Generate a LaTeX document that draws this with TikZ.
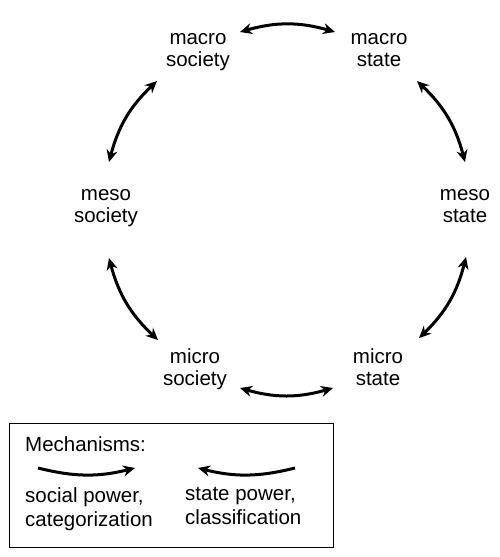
\documentclass[tikz,border=0pt]{standalone}
\usepackage{fontspec}
\setmainfont{Liberation Sans}
\usetikzlibrary{arrows.meta}
\tikzstyle{level}=[align=center,anchor=north,inner sep=0pt,font=\fontsize{20.5}{22}\selectfont]
\tikzstyle{legtext}=[align=left,inner sep=0pt,font=\fontsize{20.5}{24}\selectfont]
\tikzstyle{link}=[line width=3pt,{Stealth[length=12pt,width=11pt]}-{Stealth[length=12pt,width=11pt]},bend left=16]
\tikzstyle{mech}=[line width=3pt,-{Stealth[length=12pt,width=11pt]}]

\begin{document}
\begin{tikzpicture}[x=1pt,y=-1pt]
    \useasboundingbox (0,0) rectangle (500,557);
    \node[level] (macsoc) at (198,33)  {macro\\society};
    \node[level] (macsta) at (379,33)  {macro\\state};
    \node[level] (messoc) at (106,189) {meso\\society};
    \node[level] (messta) at (465,189) {meso\\state};
    \node[level] (micsoc) at (195,348) {micro\\society};
    \node[level] (micsta) at (378,348) {micro\\state};

    % mutual relations, clockwise
    \foreach \a/\sa/\b/\sb in {macsoc/{42,-1}/macsta/{-44,-1},
                               macsta/{38,48}/messta/{0,-27},
                               messta/{1,68}/micsta/{41,-10},
                               micsta/{-45,40}/micsoc/{45,40},
                               micsoc/{-37,-8}/messoc/{3,69},
                               messoc/{3,-27}/macsoc/{-41,48}}
    \draw[link] ([shift={(\sa)}]\a.north) to ([shift={(\sb)}]\b.north);

    % legend
    \node[draw,line width=0.8pt,minimum width=324pt,minimum height=124pt,inner sep=0pt] (legend) at (171,485) {};
    \node[legtext,anchor=base west] (mtitle) at (25,451) {Mechanisms:};
    \node[legtext,anchor=north west] (socpow) at (25,487) {social power,\\categorization};
    \node[legtext,anchor=north west] (stapow) at (185,487) {state power,\\classification};
    \coordinate (socA) at (38,468);
    \coordinate (socB) at (135,468);
    \coordinate (staA) at (295,468);
    \coordinate (staB) at (198,468);
    \draw[mech] (socA) to[bend right=14] (socB);
    \draw[mech] (staA) to[bend left=14] (staB);
\end{tikzpicture}
\end{document}
